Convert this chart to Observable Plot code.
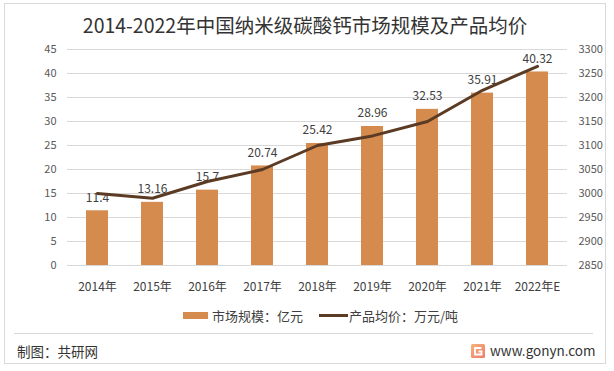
<!DOCTYPE html>
<html><head><meta charset="utf-8">
<script src="https://cdn.jsdelivr.net/npm/d3@7"></script>
<script src="https://cdn.jsdelivr.net/npm/@observablehq/plot@0.6"></script>
<style>
body{margin:0;background:#fff;}
#wrap{position:relative;width:614px;height:371px;overflow:hidden;background:#fff;font-family:"Noto Sans CJK SC","Noto Sans",sans-serif;color:#404040;}
#frame{position:absolute;left:4px;top:3px;width:602px;height:361px;border:1px solid #d9d9d9;box-sizing:border-box;}
#chart{position:absolute;left:0;top:0;}
.t{position:absolute;white-space:nowrap;line-height:1;}
#title{left:0;width:610px;text-align:center;top:15px;font-size:19.5px;color:#333;}
#sep{position:absolute;left:14px;top:333px;width:579px;height:1px;background:#d9d9d9;}
.sw1{position:absolute;left:183px;top:312px;width:25px;height:7px;background:#d58b4d;}
.sw2{position:absolute;left:319px;top:314px;width:29px;height:3px;background:#5b3b23;}
</style></head><body>
<div id="wrap">
  <div id="frame"></div>
  <div id="chart"></div>
  <div class="t" id="title">2014-2022年中国纳米级碳酸钙市场规模及产品均价</div>
  <div class="sw1"></div>
  <div class="t" style="left:212px;top:308.5px;font-size:13px;">市场规模：亿元</div>
  <div class="sw2"></div>
  <div class="t" style="left:349px;top:308.5px;font-size:13px;">产品均价：万元/吨</div>
  <div id="sep"></div>
  <div class="t" style="left:17px;top:344.5px;font-size:13.5px;color:#333;">制图：共研网</div>
  <svg style="position:absolute;left:471px;top:344px" width="14" height="14" viewBox="0 0 14 14">
    <defs><linearGradient id="lg" x1="0" y1="0" x2="1" y2="1"><stop offset="0" stop-color="#f7b27a"/><stop offset="1" stop-color="#ee7b6a"/></linearGradient></defs>
    <rect x="0" y="0" width="14" height="14" rx="1.5" fill="url(#lg)"/>
    <path d="M10.5 4 H4 V10.5 H10.5 V7.5 H7.5" fill="none" stroke="#fff" stroke-width="1.8"/>
  </svg>
  <div class="t" style="left:490px;top:343.5px;font-size:13.5px;color:#333;">www.gonyn.com</div>
</div>
<script>
const years = ["2014年","2015年","2016年","2017年","2018年","2019年","2020年","2021年","2022年E"];
const marketSize = [11.4, 13.16, 15.7, 20.74, 25.42, 28.96, 32.53, 35.91, 40.32];
const avgPrice = [3000, 2990, 3025, 3050, 3100, 3120, 3150, 3215, 3265];
const leftTicks = [0, 5, 10, 15, 20, 25, 30, 35, 40, 45];
const rightTicks = [2850, 2900, 2950, 3000, 3050, 3100, 3150, 3200, 3250, 3300];

const sizeMax = 45, priceMin = 2850, priceMax = 3300;
const toLeft = v => (v - priceMin) / (priceMax - priceMin) * sizeMax;
const fromLeft = d => Math.round(priceMin + d / sizeMax * (priceMax - priceMin));
const rows = years.map((y, i) => ({year: y, size: marketSize[i], price: avgPrice[i], p: toLeft(avgPrice[i])}));

const font = '"Noto Sans CJK SC","Noto Sans",sans-serif';
const plot = Plot.plot({
  width: 614, height: 300,
  marginTop: 49, marginBottom: 35, marginLeft: 67, marginRight: 47,
  style: {fontFamily: font, fontSize: "11px", color: "#595959", background: "transparent", overflow: "visible"},
  x: {domain: years, paddingInner: 0.6, paddingOuter: 0.3, label: null},
  y: {domain: [0, sizeMax], label: null},
  marks: [
    Plot.ruleY(leftTicks, {stroke: "#d9d9d9", strokeWidth: 1}),
    Plot.barY(rows, {x: "year", y: "size", fill: "#d58b4d"}),
    Plot.text(rows, {x: "year", y: "size", text: d => String(d.size), dy: -13, fontSize: 12, fill: "#404040"}),
    Plot.line(rows, {x: "year", y: "p", stroke: "#5b3b23", strokeWidth: 3}),
    Plot.axisY(leftTicks, {anchor: "left", tickSize: 0, tickPadding: 11, fontSize: 11, label: null}),
    Plot.axisY(rightTicks.map(toLeft), {anchor: "right", tickSize: 0, tickPadding: 11, fontSize: 11, tickFormat: d => String(fromLeft(d)), label: null}),
    Plot.axisX({tickSize: 0, tickPadding: 17, fontSize: 12, label: null, fill: "#404040"})
  ]
});
document.getElementById("chart").appendChild(plot);
</script>
</body></html>
